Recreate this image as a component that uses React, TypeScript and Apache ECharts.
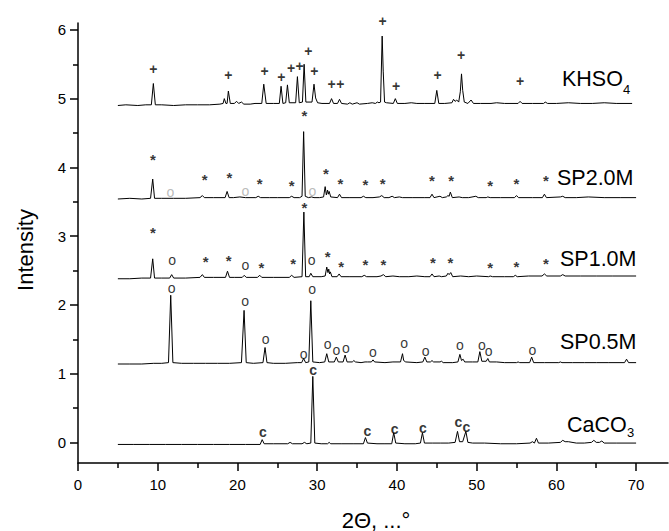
import React, { useEffect, useRef } from 'react';
import * as echarts from 'echarts';

const X_MAJOR = [0, 10, 20, 30, 40, 50, 60, 70];
const X_MINOR = [5, 15, 25, 35, 45, 55, 65];
const Y_MAJOR = [0, 1, 2, 3, 4, 5, 6];
const Y_MINOR = [0.5, 1.5, 2.5, 3.5, 4.5, 5.5];

const khso4: [number, number][] = [
  [5, 4.9], [6, 4.91], [7.5, 4.9], [8.5, 4.91], [9.2, 4.91], [9.45, 5.22], [9.7, 4.91], [10.5, 4.91], [12, 4.9], [13.5, 4.91],
  [15, 4.91], [16.5, 4.91], [17.8, 4.92], [18.2, 4.93], [18.35, 5.0], [18.55, 4.93], [18.7, 4.93], [18.86, 5.11], [19.1, 4.93],
  [19.6, 4.93], [19.9, 4.96], [20.15, 4.93], [20.5, 4.95], [20.8, 4.92], [21.6, 4.92], [22.2, 4.93], [23.05, 4.93], [23.3, 5.21],
  [23.6, 4.93], [24.5, 4.93], [25.25, 4.93], [25.47, 5.18], [25.7, 4.93], [26.05, 4.94], [26.27, 5.2], [26.5, 4.94], [27.3, 4.94],
  [27.52, 5.32], [27.75, 4.94], [28.15, 4.95], [28.36, 5.5], [28.58, 4.95], [29.35, 4.95], [29.6, 5.21], [29.8, 5.01], [30.05, 4.94],
  [30.6, 4.93], [31.55, 4.93], [31.8, 5.0], [32.05, 4.93], [32.55, 4.93], [32.8, 4.99], [33.05, 4.93], [33.8, 4.92], [34.1, 4.94],
  [34.4, 4.92], [35.0, 4.94], [35.3, 4.92], [36.3, 4.93], [36.9, 4.94], [37.3, 4.93], [37.55, 4.95], [37.75, 4.94], [37.95, 4.95],
  [38.15, 5.91], [38.28, 5.4], [38.45, 4.95], [38.7, 4.94], [39.55, 4.93], [39.8, 5.0], [40.05, 4.93], [41, 4.93], [41.8, 4.94],
  [42.5, 4.93], [43.5, 4.93], [44.75, 4.93], [45.0, 5.12], [45.25, 4.93], [46.0, 4.93], [46.9, 4.94], [47.1, 4.99], [47.3, 4.96],
  [47.5, 4.98], [47.75, 4.95], [47.95, 5.1], [48.1, 5.36], [48.25, 5.12], [48.45, 4.95], [48.9, 4.93], [49.3, 4.98], [49.6, 4.93],
  [50.5, 4.93], [51.8, 4.93], [52.5, 4.94], [53.5, 4.93], [55.2, 4.93], [55.45, 4.96], [55.7, 4.93], [57, 4.93], [58.4, 4.93],
  [58.6, 4.95], [58.9, 4.93], [60, 4.93], [61.5, 4.94], [63, 4.93], [64.5, 4.93], [66, 4.94], [67.5, 4.93], [69.5, 4.93],
];

const sp20: [number, number][] = [
  [5, 3.54], [6.5, 3.55], [8, 3.54], [9.1, 3.55], [9.37, 3.83], [9.6, 3.55], [10.5, 3.55], [12, 3.55], [13.5, 3.55], [15.3, 3.56],
  [15.6, 3.59], [15.85, 3.56], [17, 3.56], [18.45, 3.56], [18.7, 3.65], [18.95, 3.56], [19.5, 3.56], [20.3, 3.57], [21, 3.56],
  [22.3, 3.56], [22.6, 3.58], [22.9, 3.56], [24, 3.56], [25, 3.56], [26.5, 3.56], [26.8, 3.58], [27.1, 3.56], [27.8, 3.56],
  [28.1, 3.58], [28.3, 4.52], [28.5, 3.58], [28.9, 3.56], [29.3, 3.57], [29.6, 3.56], [30.3, 3.56], [30.8, 3.57], [31.0, 3.72],
  [31.15, 3.6], [31.3, 3.67], [31.4, 3.61], [31.5, 3.65], [31.7, 3.57], [32.55, 3.56], [32.8, 3.61], [33.05, 3.56], [34, 3.56],
  [35.5, 3.56], [35.8, 3.58], [36.1, 3.56], [37, 3.56], [37.8, 3.57], [38.1, 3.59], [38.4, 3.56], [39.0, 3.56], [39.4, 3.58],
  [39.7, 3.56], [40.3, 3.57], [40.7, 3.56], [42, 3.56], [43.5, 3.56], [44.15, 3.56], [44.4, 3.61], [44.65, 3.56], [45.4, 3.58],
  [45.7, 3.56], [46.2, 3.57], [46.4, 3.59], [46.55, 3.58], [46.7, 3.64], [46.95, 3.56], [47.8, 3.57], [48.2, 3.56], [49.0, 3.56],
  [49.9, 3.58], [50.2, 3.56], [51.2, 3.56], [51.4, 3.57], [51.7, 3.56], [53, 3.56], [54.75, 3.56], [55.0, 3.59], [55.25, 3.56],
  [57, 3.56], [58.25, 3.56], [58.5, 3.61], [58.75, 3.56], [60.5, 3.57], [60.8, 3.58], [61.1, 3.56], [62.5, 3.56], [64, 3.57],
  [66, 3.56], [68, 3.56], [70, 3.56],
];

const sp10: [number, number][] = [
  [5, 2.38], [6.5, 2.38], [8, 2.39], [9.1, 2.39], [9.37, 2.67], [9.6, 2.39], [10.5, 2.39], [11.5, 2.39], [11.75, 2.44], [12, 2.39],
  [13.5, 2.39], [15.3, 2.4], [15.6, 2.44], [15.85, 2.4], [17, 2.4], [18.5, 2.4], [18.75, 2.49], [19.0, 2.4], [19.6, 2.4],
  [20.6, 2.4], [20.85, 2.43], [21.1, 2.4], [22.5, 2.4], [22.8, 2.43], [23.05, 2.4], [24.5, 2.4], [26.5, 2.4], [26.8, 2.43],
  [27.1, 2.4], [28.1, 2.41], [28.33, 3.35], [28.55, 2.41], [29.0, 2.41], [29.2, 2.46], [29.45, 2.41], [30.5, 2.41], [31.0, 2.42],
  [31.2, 2.55], [31.35, 2.47], [31.45, 2.52], [31.55, 2.45], [31.65, 2.48], [31.85, 2.41], [32.5, 2.41], [32.75, 2.45], [33.0, 2.41],
  [34, 2.41], [35.6, 2.41], [35.9, 2.43], [36.2, 2.41], [37.5, 2.41], [38.0, 2.42], [38.3, 2.44], [38.6, 2.41], [39.5, 2.42],
  [40.3, 2.41], [41.5, 2.41], [42.5, 2.42], [43.5, 2.41], [44.15, 2.41], [44.4, 2.45], [44.65, 2.41], [45.3, 2.42], [45.6, 2.41],
  [46.2, 2.42], [46.4, 2.46], [46.55, 2.44], [46.75, 2.47], [47.0, 2.41], [48, 2.42], [49, 2.41], [50, 2.42], [51.5, 2.41],
  [51.7, 2.42], [52, 2.41], [53.5, 2.41], [54.6, 2.41], [54.85, 2.43], [55.1, 2.41], [56.5, 2.42], [58.2, 2.42], [58.5, 2.45],
  [58.8, 2.42], [60.5, 2.42], [60.8, 2.44], [61.1, 2.42], [63, 2.42], [65, 2.42], [67, 2.42], [70, 2.42],
];

const sp05: [number, number][] = [
  [5, 1.14], [6.5, 1.14], [8, 1.14], [9.5, 1.15], [10.5, 1.15], [11.35, 1.16], [11.63, 2.14], [11.9, 1.16], [13, 1.15],
  [14.5, 1.15], [16, 1.15], [17.5, 1.15], [19, 1.15], [20.5, 1.16], [20.83, 1.92], [21.1, 1.16], [22, 1.15], [23.2, 1.16],
  [23.46, 1.38], [23.7, 1.16], [24.5, 1.15], [26, 1.15], [27.5, 1.16], [28.05, 1.16], [28.3, 1.22], [28.55, 1.16], [28.95, 1.17],
  [29.2, 2.06], [29.45, 1.17], [30.3, 1.16], [30.95, 1.17], [31.2, 1.29], [31.45, 1.17], [32.15, 1.17], [32.4, 1.24], [32.65, 1.17],
  [33.25, 1.17], [33.5, 1.27], [33.75, 1.17], [34.4, 1.17], [34.6, 1.19], [34.8, 1.17], [35.5, 1.16], [36.0, 1.17], [36.3, 1.17],
  [36.8, 1.17], [37.0, 1.2], [37.2, 1.17], [38.5, 1.16], [39.5, 1.17], [40.45, 1.17], [40.7, 1.29], [40.85, 1.19], [41.1, 1.17],
  [42.5, 1.16], [43.25, 1.17], [43.5, 1.24], [43.75, 1.17], [44.2, 1.17], [44.4, 1.19], [44.6, 1.17], [45.4, 1.17], [45.6, 1.18],
  [45.8, 1.16], [47.0, 1.16], [47.65, 1.17], [47.9, 1.28], [48.1, 1.19], [48.3, 1.21], [48.5, 1.17], [49.5, 1.17], [50.15, 1.17],
  [50.4, 1.32], [50.65, 1.18], [51.2, 1.18], [51.4, 1.22], [51.6, 1.17], [52.5, 1.17], [53.5, 1.16], [55.0, 1.16], [55.2, 1.17],
  [55.4, 1.16], [56.65, 1.16], [56.9, 1.24], [57.15, 1.16], [58.5, 1.16], [60.3, 1.16], [60.5, 1.17], [60.7, 1.16], [62, 1.16],
  [63.5, 1.16], [65, 1.16], [66.5, 1.16], [68.55, 1.16], [68.8, 1.21], [69.05, 1.16], [70, 1.16],
];

const caco3: [number, number][] = [
  [5, -0.03], [7, -0.03], [9, -0.03], [11, -0.03], [13, -0.03], [15, -0.03], [17, -0.03], [19, -0.03], [21, -0.03],
  [22.85, -0.03], [23.1, 0.04], [23.35, -0.02], [24.5, -0.02], [26.3, -0.02], [26.6, 0.0], [26.9, -0.02], [28.1, -0.02],
  [28.4, 0.0], [28.7, -0.02], [29.2, -0.01], [29.45, 0.96], [29.7, -0.01], [30.5, -0.02], [31.3, -0.02], [31.5, 0.0], [31.7, -0.02],
  [33, -0.02], [34.5, -0.02], [35.8, -0.02], [36.05, 0.07], [36.3, -0.01], [37.5, -0.02], [38.5, -0.02], [39.35, -0.02],
  [39.6, 0.14], [39.85, -0.01], [41, -0.02], [42.3, -0.02], [42.95, -0.01], [43.2, 0.14], [43.45, -0.01], [44.5, -0.01],
  [45.5, -0.01], [46.5, -0.01], [47.3, 0.0], [47.6, 0.16], [47.85, 0.01], [48.25, 0.01], [48.65, 0.16], [48.9, 0.0], [49.5, -0.01],
  [51, -0.01], [53, -0.02], [55, -0.02], [56.7, -0.01], [57.0, 0.01], [57.25, -0.01], [57.5, 0.06], [57.75, -0.01], [59, -0.01],
  [60.5, 0.0], [60.8, 0.03], [61.1, 0.01], [61.5, 0.01], [62.5, -0.01], [63.5, -0.01], [64.4, 0.0], [64.7, 0.03], [65.0, 0.0],
  [65.4, 0.0], [65.7, 0.02], [66.0, -0.01], [67.5, -0.01], [70, -0.01],
];

const plusMarks: [number, number][] = [
  [9.45, 5.43], [18.86, 5.34], [23.4, 5.4], [25.5, 5.31], [26.72, 5.44], [27.78, 5.47], [28.9, 5.7], [29.65, 5.4],
  [31.8, 5.21], [32.9, 5.21], [38.2, 6.13], [39.9, 5.18], [45.1, 5.34], [48.05, 5.63], [55.46, 5.26],
];
const starMarks: [number, number][] = [
  [9.4, 4.12], [15.9, 3.82], [19.0, 3.85], [22.8, 3.77], [26.8, 3.73], [28.4, 4.75], [31.1, 3.91], [32.9, 3.77],
  [36.05, 3.75], [38.2, 3.77], [44.4, 3.81], [46.8, 3.81], [51.7, 3.73], [55.0, 3.77], [58.7, 3.81],
  [9.4, 3.06], [16.0, 2.63], [18.9, 2.65], [23.0, 2.55], [27.0, 2.6], [28.4, 3.42], [31.3, 2.71], [33.0, 2.56],
  [36.05, 2.59], [38.3, 2.59], [44.5, 2.61], [46.7, 2.61], [51.7, 2.55], [55.0, 2.56], [58.7, 2.6],
];
const greyOMarks: [number, number][] = [[11.6, 3.64], [21.0, 3.65], [29.4, 3.65]];
const oMarks: [number, number][] = [
  [11.8, 2.65], [21.0, 2.58], [29.3, 2.65],
  [11.75, 2.25], [20.95, 2.05], [23.55, 1.51], [28.3, 1.28], [29.36, 2.23], [31.3, 1.43], [32.4, 1.34], [33.6, 1.37],
  [37.0, 1.32], [40.9, 1.45], [43.6, 1.33], [47.9, 1.42], [50.65, 1.42], [51.5, 1.33], [57.0, 1.34],
];
const cMarks: [number, number][] = [
  [23.2, 0.15], [29.5, 1.05], [36.3, 0.16], [39.7, 0.2], [43.25, 0.21], [47.7, 0.29], [48.7, 0.23],
];

const FONT = 'Liberation Sans, Arial, Helvetica, sans-serif';

function lineSeries(name: string, data: [number, number][]) {
  return {
    name,
    type: 'line',
    data,
    showSymbol: false,
    symbol: 'none',
    silent: true,
    lineStyle: { color: '#000', width: 1 },
    z: 2,
  };
}

function markSeries(name: string, data: [number, number][], ch: string, color: string, size: number, dy: number, weight: string) {
  return {
    name,
    type: 'scatter',
    data,
    symbol: 'circle',
    symbolSize: 1,
    clip: false,
    silent: true,
    itemStyle: { color: 'transparent' },
    z: 3,
    label: {
      show: true,
      position: 'inside',
      formatter: () => ch,
      color,
      textBorderWidth: 0,
      fontSize: size,
      fontFamily: FONT,
      fontWeight: weight,
      offset: [0, dy],
    },
    labelLayout: { hideOverlap: false },
  };
}

export default function App() {
  const ref = useRef<HTMLDivElement>(null);
  useEffect(() => {
    const chart = echarts.init(ref.current!, null, { renderer: 'svg' });
    const axisLineStyle = { color: '#000', width: 1.5 };
    const option = {
      animation: false,
      backgroundColor: '#fff',
      grid: { left: 78, right: 1, top: 23, bottom: 68, containLabel: false },
      xAxis: [
        {
          type: 'value', min: 0, max: 74, position: 'bottom',
          axisLine: { show: true, lineStyle: axisLineStyle, onZero: false },
          axisTick: { show: true, customValues: X_MAJOR, length: 8, inside: false, lineStyle: axisLineStyle },
          axisLabel: { customValues: X_MAJOR, margin: 14, color: '#000', fontSize: 15, fontFamily: FONT },
          splitLine: { show: false },
        },
        {
          type: 'value', min: 0, max: 74, position: 'bottom', offset: 0,
          axisLine: { show: false, onZero: false },
          axisTick: { show: true, customValues: X_MINOR, length: 5, inside: false, lineStyle: axisLineStyle },
          axisLabel: { show: false },
          splitLine: { show: false },
        },
      ],
      yAxis: [
        {
          type: 'value', min: -0.3, max: 6.1, position: 'left',
          axisLine: { show: true, lineStyle: axisLineStyle, onZero: false },
          axisTick: { show: true, customValues: Y_MAJOR, length: 8, inside: false, lineStyle: axisLineStyle },
          axisLabel: { customValues: Y_MAJOR, margin: 12, color: '#000', fontSize: 15, fontFamily: FONT },
          splitLine: { show: false },
        },
        {
          type: 'value', min: -0.3, max: 6.1, position: 'left', offset: 0,
          axisLine: { show: false, onZero: false },
          axisTick: { show: true, customValues: Y_MINOR, length: 5, inside: false, lineStyle: axisLineStyle },
          axisLabel: { show: false },
          splitLine: { show: false },
        },
      ],
      series: [
        lineSeries('KHSO4', khso4),
        lineSeries('SP2.0M', sp20),
        lineSeries('SP1.0M', sp10),
        lineSeries('SP0.5M', sp05),
        lineSeries('CaCO3', caco3),
        markSeries('plus', plusMarks, '+', '#000000', 14, 0, 'bold'),
        markSeries('star', starMarks, '*', '#000000', 15, 4, 'bold'),
        markSeries('greyO', greyOMarks, 'o', '#aaaaaa', 14, -1, 'normal'),
        markSeries('o', oMarks, 'o', '#000000', 14, -1, 'normal'),
        markSeries('c', cMarks, 'c', '#000000', 14, -1, 'bold'),
      ],
      graphic: [
        { type: 'text', x: 562, y: 79, style: { text: 'KHSO', font: `21.5px ${FONT}`, fill: '#000', textAlign: 'left', textVerticalAlign: 'middle' } },
        { type: 'text', x: 623, y: 89, style: { text: '4', font: `13px ${FONT}`, fill: '#000', textAlign: 'left', textVerticalAlign: 'middle' } },
        { type: 'text', x: 557, y: 178, style: { text: 'SP2.0M', font: `21.5px ${FONT}`, fill: '#000', textAlign: 'left', textVerticalAlign: 'middle' } },
        { type: 'text', x: 560, y: 259, style: { text: 'SP1.0M', font: `21.5px ${FONT}`, fill: '#000', textAlign: 'left', textVerticalAlign: 'middle' } },
        { type: 'text', x: 560, y: 342, style: { text: 'SP0.5M', font: `21.5px ${FONT}`, fill: '#000', textAlign: 'left', textVerticalAlign: 'middle' } },
        { type: 'text', x: 567, y: 425, style: { text: 'CaCO', font: `21.5px ${FONT}`, fill: '#000', textAlign: 'left', textVerticalAlign: 'middle' } },
        { type: 'text', x: 627, y: 432, style: { text: '3', font: `13px ${FONT}`, fill: '#000', textAlign: 'left', textVerticalAlign: 'middle' } },
        { type: 'text', x: 25, y: 250, rotation: Math.PI / 2, style: { text: 'Intensity', font: `22px ${FONT}`, fill: '#000', textAlign: 'center', textVerticalAlign: 'middle' } },
        { type: 'text', x: 376, y: 520, style: { text: '2Θ, ...°', font: `22px ${FONT}`, fill: '#000', textAlign: 'center', textVerticalAlign: 'middle' } },
      ],
    };
    chart.setOption(option as any);
    return () => chart.dispose();
  }, []);
  return (
    <div
      ref={ref}
      style={{ position: 'absolute', left: 0, top: 0, width: 669, height: 531, background: '#fff' }}
    />
  );
}
